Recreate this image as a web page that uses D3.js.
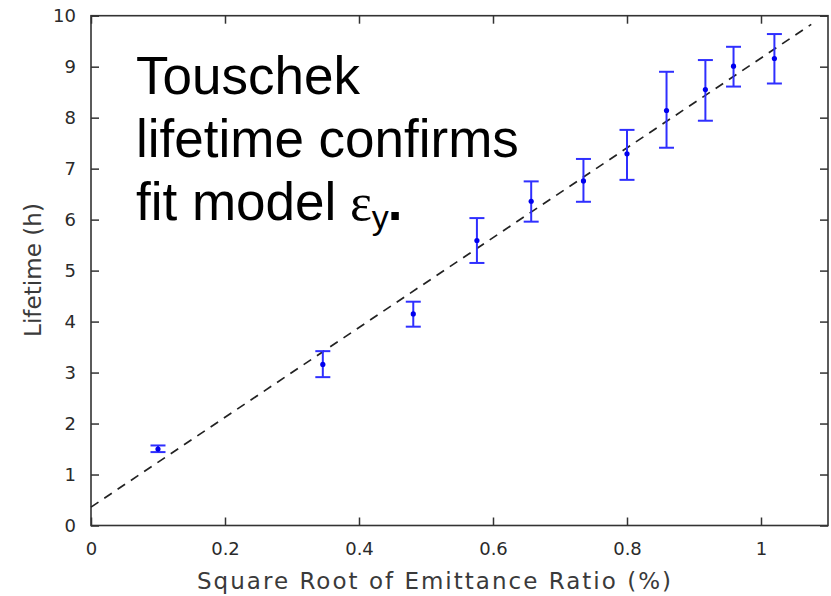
<!DOCTYPE html>
<html>
<head>
<meta charset="utf-8">
<script src="https://cdn.jsdelivr.net/npm/d3@7"></script>
<style>
  body { margin: 0; background: #fff; }
  .tick text { font-family: "DejaVu Sans", Verdana, sans-serif; font-size: 18px; fill: #2a2a2a; }
  .axisLabel { font-family: "DejaVu Sans", Verdana, sans-serif; fill: #3a3a3a; }
  .note { font-family: "Liberation Sans", Arial, sans-serif; font-size: 53px; fill: #000; }
</style>
</head>
<body>
<script>
//measured points (sqrt emittance ratio in %, lifetime in h)
var ratio    = [0.10, 0.346, 0.481, 0.576, 0.657, 0.735, 0.800, 0.859, 0.917, 0.959, 1.020];
var lifetime = [1.50, 3.16, 4.15, 5.59, 6.36, 6.76, 7.29, 8.14, 8.55, 9.01, 9.16];
var errHigh  = [1.57, 3.42, 4.39, 6.03, 6.75, 7.19, 7.76, 8.90, 9.13, 9.39, 9.64];
var errLow   = [1.44, 2.91, 3.90, 5.15, 5.96, 6.35, 6.78, 7.41, 7.94, 8.61, 8.67];

//fit model line, end points
var fitX = [0, 1.075];
var fitY = [0.36, 9.83];

var xTicks = [0, 0.2, 0.4, 0.6, 0.8, 1];
var yTicks = [0, 1, 2, 3, 4, 5, 6, 7, 8, 9, 10];

var noteLines = ["Touschek", "lifetime confirms", "fit model "];

setChart();

function setChart(){
  var width = 831,
    height = 596;

  var svg = d3.select("body")
    .append("svg")
    .attr("width", width)
    .attr("height", height);

  var left = 91, right = 828, top = 15.7, bottom = 525.5;

  var x = d3.scaleLinear().domain([0, 1.1]).range([left, right]);
  var y = d3.scaleLinear().domain([0, 10]).range([bottom, top]);

  //axes, ticks pointing inward
  var xAxis = svg.append("g")
    .attr("transform", "translate(0," + bottom + ")")
    .call(d3.axisBottom(x).tickValues(xTicks).tickSizeInner(-8).tickSizeOuter(0).tickPadding(17)
      .tickFormat(function(d) { return d3.format("")(d); }));
  var xTop = svg.append("g")
    .attr("transform", "translate(0," + top + ")")
    .call(d3.axisTop(x).tickValues(xTicks).tickSizeInner(-8).tickSizeOuter(0).tickFormat(""));
  var yAxis = svg.append("g")
    .attr("transform", "translate(" + left + ",0)")
    .call(d3.axisLeft(y).tickValues(yTicks).tickSizeInner(-8).tickSizeOuter(0).tickPadding(15));
  var yRight = svg.append("g")
    .attr("transform", "translate(" + right + ",0)")
    .call(d3.axisRight(y).tickValues(yTicks).tickSizeInner(-8).tickSizeOuter(0).tickFormat(""));

  svg.selectAll(".domain").remove();
  svg.selectAll(".tick line").attr("stroke", "#333").attr("stroke-width", 1.5);
  xAxis.selectAll(".tick text").attr("dy", "0.71em");

  //frame
  svg.append("rect")
    .attr("x", left).attr("y", top)
    .attr("width", right - left).attr("height", bottom - top)
    .attr("fill", "none")
    .attr("stroke", "#333")
    .attr("stroke-width", 1.6);

  //axis labels
  svg.append("text")
    .attr("class", "axisLabel")
    .attr("x", 434).attr("y", 589)
    .attr("text-anchor", "middle")
    .attr("font-size", 23)
    .attr("textLength", 474)
    .text("Square Root of Emittance Ratio (%)");

  svg.append("text")
    .attr("class", "axisLabel")
    .attr("transform", "translate(41,270) rotate(-90)")
    .attr("text-anchor", "middle")
    .attr("font-size", 23)
    .attr("textLength", 134)
    .text("Lifetime (h)");

  //fit line
  var line = d3.line()
    .x(function(d) { return x(d[0]); })
    .y(function(d) { return y(d[1]); });

  svg.append("path")
    .datum(d3.zip(fitX, fitY))
    .attr("d", line)
    .attr("fill", "none")
    .attr("stroke", "#222")
    .attr("stroke-width", 1.7)
    .attr("stroke-dasharray", "9,7");

  //error bars
  var pts = ratio.map(function(d, i) {
    return { x: d, y: lifetime[i], hi: errHigh[i], lo: errLow[i] };
  });

  var bars = svg.selectAll(".bar")
    .data(pts)
    .enter()
    .append("g")
    .attr("class", "bar")
    .attr("stroke", "#2f2fff")
    .attr("stroke-width", 2);

  bars.append("line")
    .attr("x1", function(d) { return x(d.x); })
    .attr("x2", function(d) { return x(d.x); })
    .attr("y1", function(d) { return y(d.hi); })
    .attr("y2", function(d) { return y(d.lo); });
  bars.append("line")
    .attr("x1", function(d) { return x(d.x) - 7.5; })
    .attr("x2", function(d) { return x(d.x) + 7.5; })
    .attr("y1", function(d) { return y(d.hi); })
    .attr("y2", function(d) { return y(d.hi); });
  bars.append("line")
    .attr("x1", function(d) { return x(d.x) - 7.5; })
    .attr("x2", function(d) { return x(d.x) + 7.5; })
    .attr("y1", function(d) { return y(d.lo); })
    .attr("y2", function(d) { return y(d.lo); });

  svg.selectAll(".dot")
    .data(pts)
    .enter()
    .append("circle")
    .attr("class", "dot")
    .attr("cx", function(d) { return x(d.x); })
    .attr("cy", function(d) { return y(d.y); })
    .attr("r", 2.6)
    .attr("fill", "#0000ee");

  //annotation
  var note = svg.append("g");
  note.selectAll("text")
    .data(noteLines)
    .enter()
    .append("text")
    .attr("class", "note")
    .attr("x", 136)
    .attr("y", function(d, i) { return 94 + i * 63; })
    .text(function(d) { return d; });

  var last = note.append("text")
    .attr("class", "note")
    .attr("x", 350)
    .attr("y", 220);
  last.append("tspan")
    .attr("font-family", "'Liberation Serif', 'Times New Roman', serif")
    .attr("font-size", 52)
    .text("ε");
  last.append("tspan")
    .attr("font-size", 34)
    .attr("dy", 9)
    .text("y");
  last.append("tspan")
    .attr("dy", -9)
    .attr("dx", -1)
    .attr("font-weight", "bold")
    .text(".");
}
</script>
</body>
</html>
